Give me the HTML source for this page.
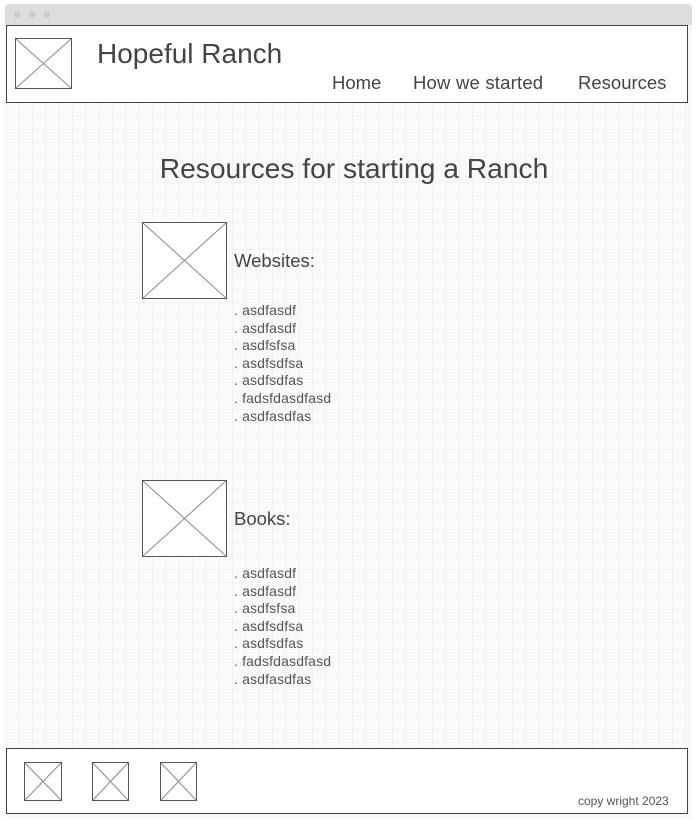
<!DOCTYPE html>
<html><head><style>
body{margin:0;width:697px;height:820px;background:#fff;position:relative;font-family:"Liberation Sans",sans-serif;color:#444;overflow:hidden}
.a{position:absolute}
.ph{position:absolute;border:1px solid #555;background:#fff}
.ph svg{position:absolute;left:0;top:0;width:100%;height:100%}
.list{font-size:14px;letter-spacing:0.15px;line-height:17.6px;color:#555}
</style></head><body>
<div class="a" style="left:5px;top:4px;width:687px;height:814px;background:#f7f7f7;border-radius:4px"></div>
<div class="a" style="left:5px;top:4px;width:687px;height:21px;background:#ddd;border-radius:4px 4px 0 0"></div>
<div class="a" style="left:14px;top:11px;width:7px;height:7px;border-radius:50%;background:#ccc"></div>
<div class="a" style="left:29px;top:11px;width:7px;height:7px;border-radius:50%;background:#ccc"></div>
<div class="a" style="left:43px;top:11px;width:7px;height:7px;border-radius:50%;background:#ccc"></div>
<svg class="a" style="left:6px;top:103px" width="682" height="645">
<defs><pattern id="g" width="13.33" height="13.33" patternUnits="userSpaceOnUse"><path d="M13.33 0V13.33H0" fill="none" stroke="#ebebeb" stroke-width="1"/></pattern></defs>
<rect width="682" height="645" fill="#fafafa"/><rect width="682" height="645" fill="url(#g)"/></svg>
<div class="a" style="left:6px;top:25px;width:680px;height:76px;border:1px solid #444;background:#fff"></div>
<div class="ph" style="left:15px;top:38px;width:55px;height:49px"><svg viewBox="0 0 10 10" preserveAspectRatio="none"><path d="M0 0L10 10M10 0L0 10" stroke="#888" stroke-width="1" vector-effect="non-scaling-stroke"/></svg></div>
<div class="a" style="left:97px;top:38px;font-size:28px;color:#444">Hopeful Ranch</div>
<div class="a" style="left:332px;top:72px;font-size:18.5px">Home</div>
<div class="a" style="left:413px;top:72px;font-size:18.5px;letter-spacing:0.2px">How we started</div>
<div class="a" style="left:578px;top:72px;font-size:18.5px">Resources</div>
<div class="a" style="left:0;width:708px;top:152px;text-align:center;font-size:28.2px">Resources for starting a Ranch</div>
<div class="ph" style="left:142px;top:222px;width:83px;height:75px"><svg viewBox="0 0 10 10" preserveAspectRatio="none"><path d="M0 0L10 10M10 0L0 10" stroke="#888" stroke-width="1" vector-effect="non-scaling-stroke"/></svg></div>
<div class="a" style="left:234px;top:250px;font-size:18.5px">Websites:</div>
<div class="a list" style="left:234px;top:302px">. asdfasdf<br>. asdfasdf<br>. asdfsfsa<br>. asdfsdfsa<br>. asdfsdfas<br>. fadsfdasdfasd<br>. asdfasdfas</div>
<div class="ph" style="left:142px;top:480px;width:83px;height:75px"><svg viewBox="0 0 10 10" preserveAspectRatio="none"><path d="M0 0L10 10M10 0L0 10" stroke="#888" stroke-width="1" vector-effect="non-scaling-stroke"/></svg></div>
<div class="a" style="left:234px;top:508px;font-size:18.5px">Books:</div>
<div class="a list" style="left:234px;top:565px">. asdfasdf<br>. asdfasdf<br>. asdfsfsa<br>. asdfsdfsa<br>. asdfsdfas<br>. fadsfdasdfasd<br>. asdfasdfas</div>
<div class="a" style="left:6px;top:748px;width:680px;height:64px;border:1px solid #444;background:#fff"></div>
<div class="ph" style="left:24px;top:762px;width:36px;height:37px"><svg viewBox="0 0 10 10" preserveAspectRatio="none"><path d="M0 0L10 10M10 0L0 10" stroke="#888" stroke-width="1" vector-effect="non-scaling-stroke"/></svg></div>
<div class="ph" style="left:92px;top:762px;width:35px;height:37px"><svg viewBox="0 0 10 10" preserveAspectRatio="none"><path d="M0 0L10 10M10 0L0 10" stroke="#888" stroke-width="1" vector-effect="non-scaling-stroke"/></svg></div>
<div class="ph" style="left:160px;top:762px;width:35px;height:37px"><svg viewBox="0 0 10 10" preserveAspectRatio="none"><path d="M0 0L10 10M10 0L0 10" stroke="#888" stroke-width="1" vector-effect="non-scaling-stroke"/></svg></div>
<div class="a" style="left:578px;top:794px;font-size:12px;color:#555">copy wright 2023</div>
</body></html>
